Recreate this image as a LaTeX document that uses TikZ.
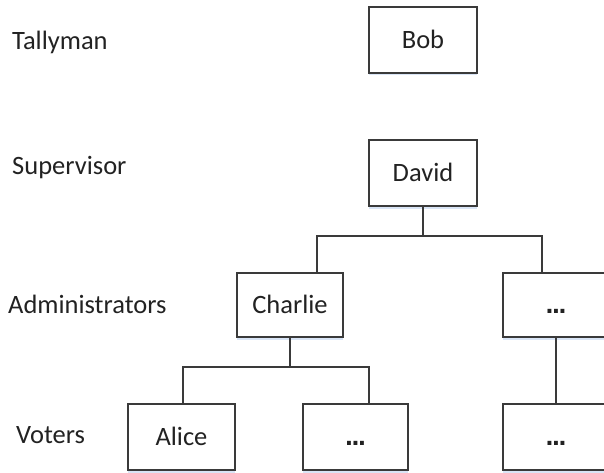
\documentclass[tikz,border=0pt]{standalone}
\usepackage{fontspec}
\setmainfont{Carlito}
\newfontfamily\dotfont{DejaVu Sans}
\usetikzlibrary{shadows}
\definecolor{linec}{HTML}{3A3A3A}
\definecolor{textc}{HTML}{222222}
\definecolor{shadowc}{HTML}{C9DAF2}
\tikzset{
  box/.style={draw=linec, line width=1.1pt, fill=white, text=textc,
    minimum width=106pt, minimum height=65pt, inner sep=0pt,
    text height=20pt, text depth=3pt,
    font=\fontsize{26.5}{30}\selectfont,
    drop shadow={shadow xshift=0pt, shadow yshift=-2.5pt, fill=shadowc, opacity=0.7}},
  lbl/.style={anchor=base west, text=textc, inner sep=0pt,
    font=\fontsize{26.5}{30}\selectfont},
  stem/.style={draw=linec, line width=1.7pt},
  bar/.style={draw=linec, line width=1.1pt},
  dots/.style={font=\dotfont\fontsize{22}{26}\selectfont\bfseries}
}
\newcommand{\tdots}{.\kern-1.8pt.\kern-1.8pt.}
\begin{document}
\begin{tikzpicture}[x=1pt, y=-1pt]
\useasboundingbox (0,0) rectangle (604,473);
\clip (0,0) rectangle (604,473);
% level labels
\node[lbl] (lt) at (12,50) {Tallyman};
\node[lbl] (ls) at (12,175) {Supervisor};
\node[lbl] (la) at (8,313) {Administrators};
\node[lbl] (lv) at (16,443) {Voters};
% boxes
\node[box, minimum width=108pt, minimum height=66pt] (bob) at (423,40) {Bob};
\node[box, minimum width=108pt, minimum height=66pt] (david) at (423,173) {David};
\node[box, minimum height=64pt] (charlie) at (290,305) {Charlie};
\node[box, minimum height=64pt, dots] (a2) at (556,305) {\tdots};
\node[box, minimum width=107pt, minimum height=66pt] (alice) at (181.5,437) {Alice};
\node[box, minimum width=105pt, minimum height=66pt, dots] (v2) at (355.5,437) {\tdots};
\node[box, minimum height=66pt, dots] (v3) at (556,437) {\tdots};
% junctions
\coordinate (j1) at (423,236);
\coordinate (j2) at (290,367);
% connectors
\draw[stem] (david.south) -- (j1);
\draw[bar] ([xshift=27pt]charlie.north) |- (j1) -| ([xshift=-14pt]a2.north);
\draw[stem] (charlie.south) -- (j2);
\draw[bar] ([xshift=1.5pt]alice.north) |- (j2) -| ([xshift=13.5pt]v2.north);
\draw[stem] (a2.south) -- (v3.north);
\end{tikzpicture}
\end{document}
